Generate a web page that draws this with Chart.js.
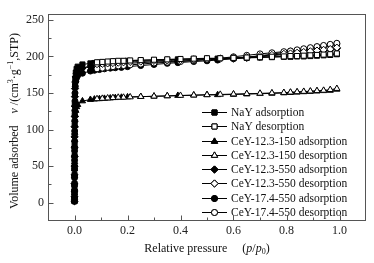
<!DOCTYPE html>
<html><head><meta charset="utf-8">
<script src="https://cdn.jsdelivr.net/npm/chart.js@4/dist/chart.umd.min.js"></script>
<style>html,body{margin:0;padding:0;background:#fff}#wrap{width:374px;height:263px;position:relative}</style>
</head><body><div id="wrap"><canvas id="c" width="374" height="263"></canvas></div>
<script>
// ---- data ----
const pressureAds = [0.00001,0.00003,0.00006,0.0001,0.00015,0.0002,0.0003,0.0004,0.0005,0.0007,0.0009,0.0012,0.0016,0.002,0.003,0.005,0.008,0.012,
  0.03,0.06,0.075,0.094,0.113,0.135,0.154,0.177,0.2,0.25,0.3,0.35,0.39,0.45,0.5,0.54,0.6,0.65,0.7,0.745,0.79,0.815,0.84,0.865,0.89,0.915,0.94,0.965,0.99];
const pressureDes = [0.99,0.965,0.94,0.915,0.89,0.865,0.84,0.815,0.79,0.745,0.7,0.65,0.6,0.55,0.5,0.45,0.4,0.35,0.3,0.25,0.21,0.185,0.165,0.145,0.125,0.105,0.085];

const nayAds = [2,8,16,26,38,50,64,78,92,106,120,134,148,160,170,178,183,186,
  189,190.5,191,191.5,192,192.5,193,193.5,194,194.5,195,195.5,196,196.5,197,197,197.5,198,198.5,199,199.5,199.5,200,200,200.5,201,201.5,202,203];
const nayDes = [204,203,202.5,202,201.5,201,200.5,200.5,200,199.5,199,198.5,198,197.5,197.5,197,196.5,196,195.5,195,194.5,194,194,193.5,193,192.5,192];
const ce150Ads = [2,7,13,20,28,37,46,56,66,76,86,96,105,113,120,126,131,134,
  139,141,141.5,142,142.5,143,143.5,144,144.5,145,145.5,146,146.5,147,147.5,147.5,148,148.5,149,149.5,150,150.5,151,151.5,152,152.5,153,153.5,155];
const ce150Des = [156,154.5,153.5,153,152.5,152,151.5,151,150.5,150,149.5,149,148.5,148,147.5,147,146.5,146,145.5,145,144.5,144,144,143.5,143,142.5,142];
const ce123Ads = [2,8,16,26,38,50,63,76,90,104,118,132,145,156,165,172,177,180,
  184,186,187,188,188.5,189,189.5,190,190.5,191.5,192.5,193,193.5,194.5,195.5,196,197,198,199.5,201,202.5,203,204,205,206,207,208,209,211];
const ce123Des = [212,210,209,208,207,206,205,204,203.5,202,200.5,199,198,197,196.5,196,195,194.5,194,193,192.5,192,191.5,191,190.5,190,189.5];
const ce174Ads = [2,7,14,23,34,46,58,71,84,98,112,126,139,150,159,166,171,174,
  177,180,181,182,183,184,184.5,185,186,187.5,189,190.5,191.5,193,194,195,197,199,201,203,205.5,207,208,209.5,211,212.5,214,215.5,217];
const ce174Des = [218,216.5,215,213.5,212,210.5,209,207.5,206.5,205,203.5,201.5,199.5,197.5,196,194.5,193,192,191,189.5,188.5,187.5,187,186,185,184,183];

const seriesNames = ['NaY adsorption','NaY desorption','CeY-12.3-150 adsorption','CeY-12.3-150 desorption',
  'CeY-12.3-550 adsorption','CeY-12.3-550 desorption','CeY-17.4-550 adsorption','CeY-17.4-550 desorption'];
const xTickValues = [0,0.2,0.4,0.6,0.8,1.0];
const xTickLabels = ['0.0','0.2','0.4','0.6','0.8','1.0'];
const xMinorTicks = [0.1,0.3,0.5,0.7,0.9];
const yTickValues = [0,50,100,150,200,250];
const yTickLabels = ['0','50','100','150','200','250'];
const yMinorTicks = [25,75,125,175,225];

// ---- build ----
const seriesValues = [nayAds,nayDes,ce150Ads,ce150Des,ce123Ads,ce123Des,ce174Ads,ce174Des];
const styles = ['rect','rect','triangle','triangle','rectRot','rectRot','circle','circle'];
const radii = {rect:3.6,triangle:3.6,rectRot:3.6,circle:3};
function pts(xs, ys){ return ys.map((v,i)=>({x:xs[i], y:v})); }
const datasets = seriesValues.map((vals,i)=>{
  const filled = i%2===0;
  return {
    label: seriesNames[i],
    data: pts(filled?pressureAds:pressureDes, vals),
    showLine: true, order: filled?1:0,
    borderColor:'#000', borderWidth:1,
    pointStyle: styles[i], pointRadius: radii[styles[i]],
    pointBackgroundColor: filled?'#000':'#fff',
    pointBorderColor:'#000', pointBorderWidth:1,
    backgroundColor: filled?'#000':'#fff'
  };
});

const SERIF = '"Liberation Serif","Times New Roman",serif';
function drawRich(ctx, parts, cx, cy){
  let w = 0;
  parts.forEach(p=>{ctx.font=p.font; p.w=ctx.measureText(p.t).width; w+=p.w;});
  let x = cx - w/2;
  ctx.textBaseline='middle'; ctx.textAlign='left';
  parts.forEach(p=>{ctx.font=p.font; ctx.fillText(p.t, x, cy+(p.dy||0)); x+=p.w;});
}

const decor = {
  id:'decor',
  afterDatasetsDraw(chart){
    const ctx = chart.ctx, a = chart.chartArea;
    const xs = chart.scales.x, ys = chart.scales.y;
    const L = Math.round(a.left)+0.5, R = Math.round(a.right)-0.5, T = Math.round(a.top)+0.5, B = Math.round(a.bottom)-0.5;
    ctx.save();
    ctx.strokeStyle='#555'; ctx.lineWidth=1;
    ctx.strokeRect(L, T, R-L, B-T);
    ctx.beginPath();
    xTickValues.forEach(v=>{const p=Math.round(xs.getPixelForValue(v))+0.5; ctx.moveTo(p,B); ctx.lineTo(p,B-5);});
    xMinorTicks.forEach(v=>{const p=Math.round(xs.getPixelForValue(v))+0.5; ctx.moveTo(p,B); ctx.lineTo(p,B-3);});
    yTickValues.forEach(v=>{const p=Math.round(ys.getPixelForValue(v))+0.5; ctx.moveTo(L,p); ctx.lineTo(L+5,p);});
    yMinorTicks.forEach(v=>{const p=Math.round(ys.getPixelForValue(v))+0.5; ctx.moveTo(L,p); ctx.lineTo(L+3,p);});
    ctx.stroke();

    // legend
    const lx0 = 202, lx1 = 227, tx = 231, y0 = 112, dy = 14.28;
    chart.data.datasets.forEach((d,i)=>{
      const y = Math.round(y0 + i*dy)+0.5;
      ctx.strokeStyle='#000'; ctx.lineWidth=1;
      ctx.beginPath(); ctx.moveTo(lx0,y); ctx.lineTo(lx1,y); ctx.stroke();
      Chart.helpers.drawPoint(ctx,{pointStyle:d.pointStyle, radius:d.pointRadius, borderWidth:1, rotation:0},(lx0+lx1)/2, y);
      ctx.fillStyle=d.pointBackgroundColor; ctx.fill();
      ctx.strokeStyle='#000'; ctx.stroke();
      ctx.fillStyle='#111'; ctx.font='11.5px '+SERIF; ctx.textAlign='left'; ctx.textBaseline='middle';
      ctx.fillText(d.label, tx, y);
    });

    // axis titles
    ctx.fillStyle='#111';
    const f='12px '+SERIF, fi='italic 12px '+SERIF, fs='8px '+SERIF;
    drawRich(ctx,[{t:'Relative pressure',font:f},{t:'     (',font:f},{t:'p',font:fi},{t:'/',font:f},{t:'p',font:fi},{t:'0',font:fs,dy:3},{t:')',font:f}], (a.left+a.right)/2, 249);
    ctx.save();
    ctx.translate(15, 121); ctx.rotate(-Math.PI/2);
    drawRich(ctx,[{t:'Volume adsorbed',font:f},{t:'    ',font:f},{t:'v',font:fi},{t:' /(cm',font:f},{t:'3',font:fs,dy:-4},{t:'·g',font:f},{t:'−1',font:fs,dy:-4},{t:',STP)',font:f}],0,0);
    ctx.restore();
    ctx.restore();
  }
};

new Chart(document.getElementById('c'),{
  type:'scatter',
  data:{datasets},
  options:{
    responsive:false, animation:false,
    layout:{padding:{left:0,top:14,right:8,bottom:0}},
    plugins:{legend:{display:false},tooltip:{enabled:false}},
    elements:{line:{tension:0}},
    scales:{
      x:{type:'linear',min:-0.1,max:1.1,
        grid:{display:false,drawTicks:false},border:{display:false},
        afterBuildTicks(s){s.ticks = xTickValues.map(v=>({value:v}));},
        afterFit(s){s.height=42;},
        ticks:{padding:3,color:'#222',font:{family:SERIF,size:12},maxRotation:0,autoSkip:false,
          callback:(v)=>{const i=xTickValues.findIndex(t=>Math.abs(t-v)<1e-9); return i>=0?xTickLabels[i]:'';}}},
      y:{type:'linear',min:-25,max:258,
        grid:{display:false,drawTicks:false},border:{display:false},
        afterBuildTicks(s){s.ticks = yTickValues.map(v=>({value:v}));},
        afterFit(s){s.width=48;},
        ticks:{padding:4,color:'#222',font:{family:SERIF,size:12},autoSkip:false,
          callback:(v)=>{const i=yTickValues.indexOf(v); return i>=0?yTickLabels[i]:'';}}}
    }
  },
  plugins:[decor]
});
</script></body></html>
